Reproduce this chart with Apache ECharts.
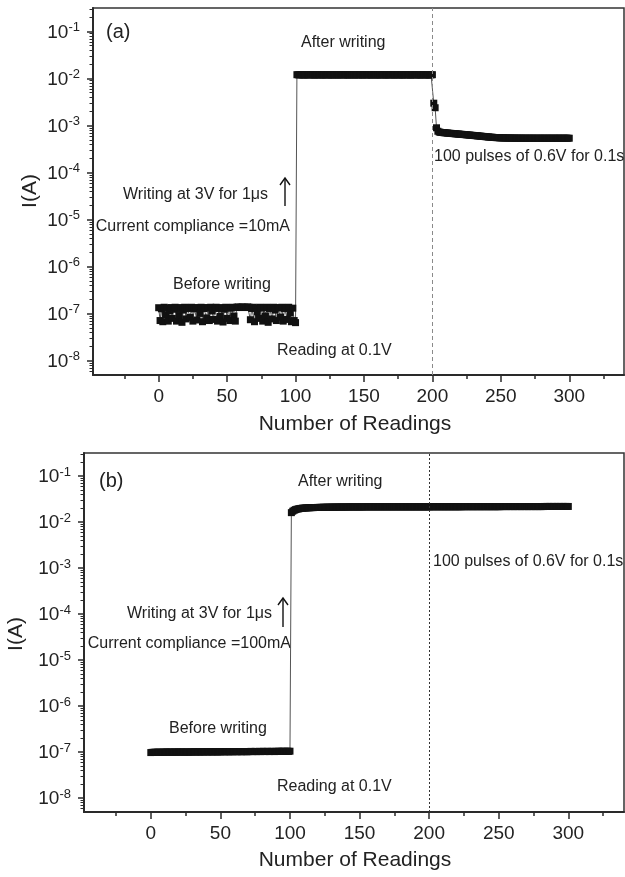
<!DOCTYPE html>
<html>
<head>
<meta charset="utf-8">
<script src="https://cdn.jsdelivr.net/npm/echarts@6/dist/echarts.min.js"></script>
<style>
  html, body { margin: 0; padding: 0; background: #fff; }
  #chart { width: 625px; height: 877px; }
</style>
</head>
<body>
<div id="chart"></div>
<script>
// ---------- Panel (a): compliance 10 mA ----------
// readings 0..100, before writing (units of 1e-7 A)
const beforeA = [
  1.35,0.72,1.28,0.68,1.38,0.95,1.32,0.70,1.15,1.36,
  0.80,1.25,1.38,0.70,1.30,0.92,1.36,0.66,1.20,1.38,
  0.78,1.30,1.34,0.84,1.38,0.70,1.28,1.36,0.74,1.33,
  1.02,1.38,0.68,1.30,1.36,0.82,1.33,0.72,1.38,1.15,
  0.76,1.34,1.38,0.70,1.30,0.88,1.36,0.67,1.25,1.38,
  0.80,1.35,0.72,1.32,1.38,0.90,0.70,
  1.38,1.40,1.36,1.38,1.40,1.37,1.39,1.36,1.40,1.38,
  0.75,1.30,1.38,0.68,1.34,1.10,0.80,1.38,1.32,0.70,
  1.36,0.90,1.38,0.66,1.30,1.35,0.78,1.38,1.20,0.72,
  1.36,1.33,0.85,1.38,0.70,1.30,1.36,0.76,1.38,1.05,
  0.68,1.32,0.72,0.65
];
// readings 101..200, after writing (units of 1e-2 A)
const afterA = [
  1.21,1.20,1.20,1.21,1.20,1.19,1.20,1.21,1.20,1.20,
  1.20,1.21,1.20,1.19,1.20,1.20,1.21,1.20,1.20,1.19,
  1.20,1.20,1.21,1.20,1.20,1.19,1.20,1.20,1.21,1.20,
  1.19,1.20,1.20,1.21,1.20,1.20,1.20,1.19,1.20,1.21,
  1.20,1.20,1.19,1.20,1.21,1.20,1.20,1.20,1.19,1.20,
  1.21,1.20,1.20,1.20,1.19,1.20,1.21,1.20,1.20,1.19,
  1.20,1.20,1.21,1.20,1.20,1.19,1.20,1.20,1.21,1.20,
  1.20,1.19,1.20,1.21,1.20,1.20,1.20,1.19,1.20,1.20,
  1.21,1.20,1.20,1.19,1.20,1.20,1.21,1.20,1.20,1.20,
  1.19,1.20,1.21,1.20,1.20,1.20,1.19,1.20,1.20,1.21
];
// readings 201..300, during the 0.6 V pulses (units of 1e-4 A)
const pulsesA = [
  30.0,24.0,9.0,7.6,7.3,7.2,7.15,7.1,7.05,7.0,
  6.95,6.9,6.86,6.82,6.78,6.74,6.7,6.66,6.62,6.58,
  6.54,6.5,6.46,6.42,6.38,6.34,6.3,6.26,6.22,6.18,
  6.14,6.1,6.06,6.02,5.98,5.94,5.9,5.86,5.82,5.78,
  5.74,5.7,5.67,5.64,5.61,5.58,5.56,5.54,5.52,5.5,
  5.49,5.48,5.47,5.46,5.45,5.45,5.44,5.44,5.43,5.43,
  5.42,5.42,5.41,5.42,5.41,5.41,5.40,5.41,5.40,5.40,
  5.41,5.40,5.40,5.41,5.40,5.40,5.39,5.40,5.40,5.41,
  5.40,5.40,5.39,5.40,5.41,5.40,5.40,5.39,5.40,5.40,
  5.40,5.41,5.40,5.39,5.40,5.40,5.41,5.40,5.40,5.40
];

// ---------- Panel (b): compliance 100 mA ----------
// readings 0..100, before writing (units of 1e-7 A)
const beforeB = [
  0.98,0.99,0.99,1.00,0.99,1.00,1.00,0.99,1.00,1.00,
  1.00,1.01,1.00,1.00,1.01,1.00,1.00,1.01,1.00,1.01,
  1.01,1.00,1.01,1.01,1.00,1.01,1.01,1.00,1.01,1.01,
  1.01,1.02,1.01,1.01,1.02,1.01,1.01,1.02,1.01,1.02,
  1.02,1.01,1.02,1.02,1.01,1.02,1.02,1.02,1.01,1.02,
  1.02,1.02,1.03,1.02,1.02,1.03,1.02,1.02,1.03,1.02,
  1.03,1.03,1.02,1.03,1.03,1.02,1.03,1.03,1.03,1.02,
  1.03,1.03,1.04,1.03,1.03,1.04,1.03,1.03,1.04,1.03,
  1.04,1.04,1.03,1.04,1.04,1.03,1.04,1.04,1.04,1.03,
  1.04,1.04,1.05,1.04,1.04,1.05,1.04,1.04,1.05,1.04,
  1.05
];
// readings 101..300, after writing and under the pulses (units of 1e-2 A)
const afterB = [
  1.60,1.72,1.80,1.86,1.90,1.93,1.96,1.98,2.00,2.01,
  2.02,2.03,2.04,2.05,2.05,2.06,2.06,2.07,2.07,2.08,
  2.08,2.08,2.09,2.09,2.09,2.10,2.10,2.10,2.10,2.11,
  2.11,2.11,2.11,2.11,2.12,2.12,2.12,2.12,2.12,2.12,
  2.12,2.13,2.13,2.13,2.13,2.13,2.13,2.13,2.13,2.13,
  2.13,2.13,2.14,2.14,2.14,2.14,2.14,2.14,2.14,2.14,
  2.14,2.14,2.14,2.14,2.14,2.14,2.14,2.14,2.14,2.14,
  2.14,2.14,2.14,2.14,2.14,2.14,2.14,2.14,2.14,2.14,
  2.14,2.14,2.14,2.14,2.14,2.14,2.14,2.14,2.14,2.14,
  2.14,2.14,2.14,2.14,2.14,2.14,2.14,2.14,2.14,2.14,
  2.15,2.15,2.15,2.15,2.15,2.15,2.15,2.15,2.15,2.15,
  2.15,2.15,2.15,2.15,2.15,2.15,2.15,2.15,2.15,2.15,
  2.15,2.15,2.15,2.16,2.16,2.16,2.16,2.16,2.16,2.16,
  2.16,2.16,2.16,2.16,2.16,2.16,2.16,2.16,2.16,2.16,
  2.16,2.16,2.16,2.16,2.16,2.16,2.16,2.16,2.16,2.16,
  2.16,2.17,2.17,2.17,2.17,2.17,2.17,2.17,2.17,2.17,
  2.17,2.17,2.17,2.17,2.17,2.17,2.17,2.17,2.17,2.17,
  2.17,2.17,2.17,2.17,2.17,2.17,2.17,2.17,2.17,2.17,
  2.17,2.17,2.18,2.18,2.18,2.18,2.18,2.18,2.18,2.18,
  2.18,2.18,2.18,2.18,2.18,2.18,2.18,2.18,2.18,2.18
];

// Axis ticks
const xMajorTicks = [0, 50, 100, 150, 200, 250, 300];
const xMinorTicks = [-25, 25, 75, 125, 175, 225, 275, 325];
const yDecades = [-8, -7, -6, -5, -4, -3, -2, -1];   // exponents of 10
const pulseStart = 200;

// Full current series (A), indexed by reading number
const currentA = [].concat(
  beforeA.map(v => v * 1e-7),
  afterA.map(v => v * 1e-2),
  pulsesA.map(v => v * 1e-4)
);
const currentB = [].concat(
  beforeB.map(v => v * 1e-7),
  afterB.map(v => v * 1e-2)
);

const FONT = "'Liberation Sans', Arial, Helvetica, sans-serif";
const X_MIN = -48, X_MAX = 340;
const Y_MIN = -8.3, Y_MAX = -0.5;

// log-decade minor tick positions (2..9 x 10^n)
const yMinorTicks = [];
for (let n = -9; n <= 0; n++) {
  for (let k = 2; k <= 9; k++) {
    const p = n + Math.log10(k);
    if (p > Y_MIN && p < Y_MAX) yMinorTicks.push(p);
  }
}

const toPoints = arr => arr.map((v, i) => [i, Math.log10(v)]);

const chart = echarts.init(document.getElementById('chart'), null, { renderer: 'canvas' });

const grids = [
  { left: 93, top: 8, width: 531, height: 367 },
  { left: 84, top: 453, width: 540, height: 359 }
];

const AX = '#2a2a2a';

function mainX(g) {
  return {
    type: 'value', gridIndex: g, min: X_MIN, max: X_MAX, position: 'bottom',
    axisLine: { show: true, onZero: false, lineStyle: { color: AX, width: 2 } },
    axisTick: { show: true, inside: false, length: 7, customValues: xMajorTicks,
                lineStyle: { color: AX, width: 1.5 } },
    axisLabel: { show: true, customValues: xMajorTicks, margin: 12,
                 fontSize: 19, fontFamily: FONT, color: '#222' },
    splitLine: { show: false }
  };
}
// minor-tick axis: declared on the opposite side, then shifted onto the bottom edge
function minorX(g) {
  return {
    type: 'value', gridIndex: g, min: X_MIN, max: X_MAX, position: 'top',
    offset: -grids[g].height,
    axisLine: { show: false, onZero: false },
    axisTick: { show: true, inside: true, length: 4, customValues: xMinorTicks,
                lineStyle: { color: AX, width: 1.5 } },
    axisLabel: { show: false },
    splitLine: { show: false }
  };
}
function mainY(g) {
  return {
    type: 'value', gridIndex: g, min: Y_MIN, max: Y_MAX, position: 'left',
    axisLine: { show: true, onZero: false, lineStyle: { color: AX, width: 2 } },
    axisTick: { show: true, inside: false, length: 6, customValues: yDecades,
                lineStyle: { color: AX, width: 1.5 } },
    axisLabel: {
      show: true, customValues: yDecades, margin: 13,
      formatter: v => '{b|10}{s|' + Math.round(v) + '}',
      rich: {
        b: { fontSize: 19, fontFamily: FONT, color: '#222', lineHeight: 21, verticalAlign: 'bottom' },
        s: { fontSize: 13, fontFamily: FONT, color: '#222', lineHeight: 13, verticalAlign: 'top' }
      }
    },
    splitLine: { show: false }
  };
}
// minor-tick axis: declared on the right, then shifted onto the left edge
function minorY(g) {
  return {
    type: 'value', gridIndex: g, min: Y_MIN, max: Y_MAX, position: 'right',
    offset: -grids[g].width,
    axisLine: { show: false, onZero: false },
    axisTick: { show: true, inside: true, length: 3.5, customValues: yMinorTicks,
                lineStyle: { color: AX, width: 1 } },
    axisLabel: { show: false },
    splitLine: { show: false }
  };
}

function dataSeries(idx, arr, divider) {
  return {
    type: 'line', xAxisIndex: idx * 2, yAxisIndex: idx * 2,
    data: toPoints(arr),
    symbol: 'rect', symbolSize: 7, showSymbol: true,
    lineStyle: { color: '#555', width: 1 },
    itemStyle: { color: '#111', borderWidth: 0 },
    emphasis: { disabled: true },
    z: 3,
    markLine: {
      silent: true, symbol: 'none', animation: false,
      label: { show: false },
      lineStyle: divider,
      data: [{ xAxis: pulseStart }]
    }
  };
}

// Text annotations (pixel layout)
const notes = [
  { t: '(a)', x: 106, y: 32, s: 20 },
  { t: 'After writing', x: 301, y: 43, s: 16 },
  { t: 'Writing at 3V for 1\u03bcs', x: 268, y: 195, s: 16, a: 'right' },
  { t: 'Current compliance =10mA', x: 290, y: 227, s: 16, a: 'right' },
  { t: 'Before writing', x: 173, y: 285, s: 16 },
  { t: 'Reading at 0.1V', x: 277, y: 351, s: 16 },
  { t: '100 pulses of 0.6V for 0.1s', x: 434, y: 157, s: 16 },
  { t: '(b)', x: 99, y: 481, s: 20 },
  { t: 'After writing', x: 298, y: 482, s: 16 },
  { t: 'Writing at 3V for 1\u03bcs', x: 272, y: 614, s: 16, a: 'right' },
  { t: 'Current compliance =100mA', x: 291, y: 644, s: 16, a: 'right' },
  { t: 'Before writing', x: 169, y: 729, s: 16 },
  { t: 'Reading at 0.1V', x: 277, y: 787, s: 16 },
  { t: '100 pulses of 0.6V for 0.1s', x: 433, y: 562, s: 16 }
];
const arrows = [
  { x: 285, y1: 206, y2: 178 },
  { x: 283, y1: 627, y2: 598 }
];

const graphic = [];
notes.forEach(n => {
  graphic.push({
    type: 'text', x: n.x, y: n.y, silent: true,
    style: {
      text: n.t, fill: '#222', font: n.s + 'px ' + FONT,
      align: n.a || 'left', textAlign: n.a || 'left',
      verticalAlign: 'middle', textVerticalAlign: 'middle'
    }
  });
});
arrows.forEach(a => {
  graphic.push({
    type: 'polyline', silent: true,
    shape: { points: [[a.x, a.y1], [a.x, a.y2]] },
    style: { stroke: '#111', lineWidth: 1.4, fill: null }
  });
  graphic.push({
    type: 'polyline', silent: true,
    shape: { points: [[a.x - 5, a.y2 + 7], [a.x, a.y2], [a.x + 5, a.y2 + 7]] },
    style: { stroke: '#111', lineWidth: 1.4, fill: null }
  });
});
// axis titles
[{ y: 424, cx: 355 }, { y: 860, cx: 355 }].forEach(p => {
  graphic.push({
    type: 'text', x: p.cx, y: p.y, silent: true,
    style: { text: 'Number of Readings', fill: '#222', font: '21px ' + FONT,
             align: 'center', textAlign: 'center', verticalAlign: 'middle', textVerticalAlign: 'middle' }
  });
});
[{ x: 30, y: 191 }, { x: 16, y: 634 }].forEach(p => {
  graphic.push({
    type: 'text', x: p.x, y: p.y, rotation: Math.PI / 2, silent: true,
    style: { text: 'I(A)', fill: '#222', font: '21px ' + FONT,
             align: 'center', textAlign: 'center', verticalAlign: 'middle', textVerticalAlign: 'middle' }
  });
});

chart.setOption({
  animation: false,
  backgroundColor: '#fff',
  grid: grids.map(g => Object.assign({
    show: true, borderColor: '#333', borderWidth: 1.5, backgroundColor: 'transparent',
    containLabel: false, outerBoundsMode: 'none'
  }, g)),
  xAxis: [mainX(0), minorX(0), mainX(1), minorX(1)],
  yAxis: [mainY(0), minorY(0), mainY(1), minorY(1)],
  series: [
    dataSeries(0, currentA, { color: '#8a8a8a', width: 1, type: [4, 3] }),
    dataSeries(1, currentB, { color: '#333', width: 1, type: [2, 2] })
  ],
  graphic: graphic
});
</script>
</body>
</html>
